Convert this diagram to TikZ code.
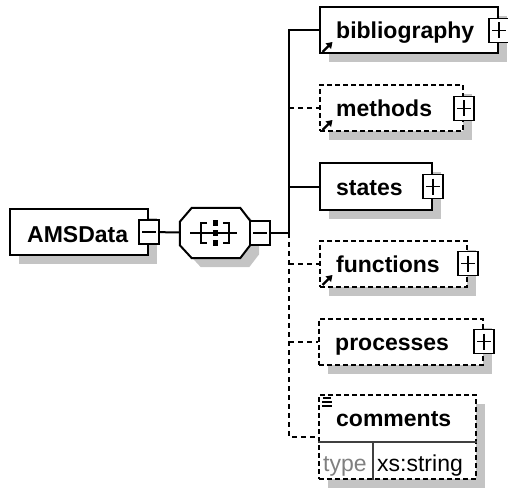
\documentclass[tikz,border=0pt]{standalone}
\usepackage{fontspec}
\setmainfont{Liberation Sans}
\usetikzlibrary{shadows,arrows.meta}
\definecolor{shadowgray}{RGB}{196,196,196}
\begin{document}
\begin{tikzpicture}[x=1pt, y=-1pt,
    el/.style = {draw, line width=2pt, fill=white, minimum height=46, inner sep=0,
      drop shadow={shadow xshift=9pt, shadow yshift=-9pt, fill=shadowgray, opacity=1}},
    opt/.style = {el, dash pattern=on 5pt off 3pt},
    lbl/.style = {font=\fontsize{23}{26}\selectfont\bfseries, inner sep=0, anchor=base west},
    minusbox/.style = {draw, line width=1.6pt, fill=white, minimum width=20, minimum height=24, inner sep=0,
      path picture={\draw[line width=1.6pt] ([xshift=3pt]path picture bounding box.west) -- ([xshift=-3pt]path picture bounding box.east);}},
    plusbox/.style = {minusbox,
      path picture={\draw[line width=1.6pt] ([xshift=3pt]path picture bounding box.west) -- ([xshift=-3pt]path picture bounding box.east)
        ([yshift=-4pt]path picture bounding box.north) -- ([yshift=4pt]path picture bounding box.south);}},
    conn/.style = {line width=2pt},
    dconn/.style = {conn, dash pattern=on 5pt off 4pt},
    refarrow/.style = {line width=2.4pt, -{Triangle[length=6pt,width=7.5pt]}}]
    \useasboundingbox (0,0) rectangle (508,489);
    % Boxes
    \node[el, minimum width=138] (amsdata) at (79,232) {};
    \node[minimum width=70, minimum height=50, inner sep=0] (seq) at (215,233) {};
    \filldraw[line width=2pt, fill=white,
      preaction={fill=shadowgray, transform canvas={shift={(9pt,-9pt)}}}]
      ([xshift=12pt]seq.north west) -- ([xshift=-10pt]seq.north east) -- ([yshift=-13pt]seq.north east)
      -- ([yshift=13pt]seq.south east) -- ([xshift=-10pt]seq.south east) -- ([xshift=12pt]seq.south west)
      -- ([yshift=13pt]seq.south west) -- ([yshift=-14pt]seq.north west) -- cycle;
    \node[el, minimum width=178] (bib) at (409,30.5) {};
    \node[opt, minimum width=143] (meth) at (391.5,108.5) {};
    \node[el, minimum width=112] (states) at (376,186.5) {};
    \node[opt, minimum width=147] (func) at (393.5,263.5) {};
    \node[opt, minimum width=164] (proc) at (401,341.5) {};
    \node[opt, minimum width=157, minimum height=84] (comm) at (397.5,437) {};
    % Texts
    \node[lbl] (tams) at ([xshift=18pt, yshift=-10pt]amsdata.west) {AMSData};
    \node[lbl] (tbib) at ([xshift=17pt, yshift=-8.5pt]bib.west) {bibliography};
    \node[lbl] (tmeth) at ([xshift=17pt, yshift=-8.5pt]meth.west) {methods};
    \node[lbl] (tstates) at ([xshift=17pt, yshift=-8.5pt]states.west) {states};
    \node[lbl] (tfunc) at ([xshift=17pt, yshift=-8.5pt]func.west) {functions};
    \node[lbl] (tproc) at ([xshift=17pt, yshift=-8.5pt]proc.west) {processes};
    \node[lbl] (tcomm) at ([shift={(18pt,-32pt)}]comm.north west) {comments};
    \node[lbl, font=\fontsize{23}{26}\selectfont, text=gray] (ttype) at ([shift={(5pt,9pt)}]comm.south west) {type};
    \node[lbl, font=\fontsize{23}{26}\selectfont] (txs) at ([shift={(59pt,9pt)}]comm.south west) {xs:string};
    % Plus and minus
    \node[minusbox] (amsminus) at (amsdata.east) {};
    \node[minusbox, anchor=west] (seqminus) at ([xshift=-1pt]seq.east) {};
    \node[plusbox] (bibplus) at (bib.east) {};
    \node[plusbox] (methplus) at (meth.east) {};
    \node[plusbox] (statesplus) at (states.east) {};
    \node[plusbox] (funcplus) at (func.east) {};
    \node[plusbox] (procplus) at (proc.east) {};
    % Sequence sign
    \draw[line width=1.8pt] ([xshift=-25pt]seq.center) -- ([xshift=22pt]seq.center);
    \draw[line width=1.8pt] ([shift={(-8pt,10pt)}]seq.center) -- ++(-6pt,0) -- ++(0,-20pt) -- ++(6pt,0);
    \draw[line width=1.8pt] ([shift={(8pt,10pt)}]seq.center) -- ++(6pt,0) -- ++(0,-20pt) -- ++(-6pt,0);
    \foreach \d in {10,0,-10}
      \fill ([shift={(-2.5pt,\d pt+3pt)}]seq.center) rectangle ++(5pt,-6pt);
    % Reference arrows and comment sign
    \draw[refarrow] ([shift={(3.5pt,2.5pt)}]bib.south west) -- ++(10pt,10pt);
    \draw[refarrow] ([shift={(3.5pt,2.5pt)}]meth.south west) -- ++(10pt,10pt);
    \draw[refarrow] ([shift={(3.5pt,2.5pt)}]func.south west) -- ++(10pt,10pt);
    \draw[line width=1.5pt] ([shift={(5pt,-4pt)}]comm.north west) -- ++(8pt,0)
      ([shift={(4pt,-8pt)}]comm.north west) -- ++(10pt,0)
      ([shift={(4pt,-12pt)}]comm.north west) -- ++(10pt,0);
    \draw[line width=1.4pt, black!75] ([yshift=-5pt]comm.west) -- ([yshift=-5pt]comm.east);
    \draw[line width=1.4pt, black!75] ([shift={(55pt,-5pt)}]comm.west) -- ([xshift=55pt]comm.south west);
    % Connectors
    \coordinate (spine) at (289,233);
    \draw[conn] (amsminus) -- (seq);
    \draw[conn] (seqminus) -- (spine);
    \draw[conn] (spine) |- (bib);                    % bibliography
    \draw[dconn] (spine |- meth.west) -- (meth);     % methods
    \draw[conn] (spine |- states.west) -- (states);  % states
    \draw[dconn] (spine) -- (spine |- comm.west) -- (comm); % comments
    \draw[dconn] (spine |- func.west) -- (func);     % functions
    \draw[dconn] (spine |- proc.west) -- (proc);     % processes
\end{tikzpicture}
\end{document}
